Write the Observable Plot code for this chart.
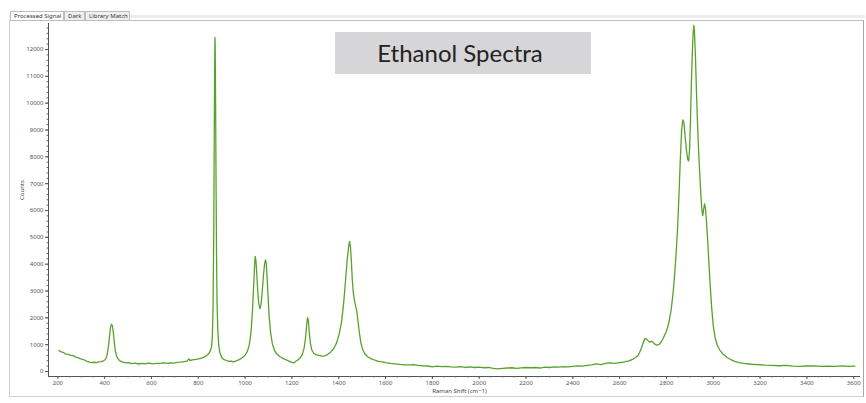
<!DOCTYPE html>
<html>
<head>
<meta charset="utf-8">
<script src="https://cdn.jsdelivr.net/npm/d3@7"></script>
<script src="https://cdn.jsdelivr.net/npm/@observablehq/plot@0.6"></script>
<style>
  html, body { margin: 0; padding: 0; background: #ffffff; }
  #wrap { position: relative; width: 866px; height: 403px; overflow: hidden; background: #fff; font-family: "Noto Sans", sans-serif; }
  #panel { position: absolute; left: 9px; top: 20px; width: 855px; height: 377px; border: 1px solid #cfcfcf; border-right-color: #a8a8a8; border-top-color: #bdbdbd; box-sizing: border-box; }
  #topband { position: absolute; left: 9px; top: 15px; width: 856px; height: 3px; background: #ececec; }
  .tab { position: absolute; top: 11px; height: 9px; font-size: 6px; line-height: 9px; color: #333; border: 1px solid #bdbdbd; border-bottom: none; padding: 0 3px; box-sizing: border-box; background: #f0f0f0; white-space: nowrap; }
  #chart { position: absolute; left: 0; top: 0; }
  #title { position: absolute; left: 335px; top: 32px; width: 256px; height: 42px; background: #d6d6d8; color: #222; font-family: Lato, "Noto Sans", sans-serif; font-size: 24px; line-height: 42px; text-align: center; text-indent: -6px; }
</style>
</head>
<body>
<div id="wrap">
  <div id="topband"></div>
  <div id="panel"></div>
  <div class="tab" style="left:10px;width:54px;background:#fff;">Processed Signal</div>
  <div class="tab" style="left:64px;width:21px;">Dark</div>
  <div class="tab" style="left:85px;width:45px;">Library Match</div>
  <div id="chart"></div>
  <div id="title">Ethanol Spectra</div>
</div>
<script>
// Raman shift (cm-1) and counts
const shift = [205,215,225,235,245,255,265,275,285,295,305,315,325,335,345,355,365,375,385,395,
402,407,412,417,421,425,429,433,437,441,445,450,456,463,472,482,492,502,515,530,545,560,575,590,605,620,635,650,665,680,695,710,725,740,752,760,765,775,790,805,820,833,843,851,856,860,863,866,868,870,871,872,874,876,878,880,883,887,892,900,910,920,930,940,950,960,970,980,990,1000,1010,1018,1025,1031,1036,1040,1043,1046,1050,1054,1058,1063,1068,1073,1078,1083,1087,1090,1094,1098,1103,1109,1116,1125,1135,1148,1162,1176,1190,1200,1208,1215,1225,1235,1245,1252,1258,1263,1267,1270,1274,1279,1285,1293,1302,1315,1328,1340,1352,1365,1378,1390,1402,1412,1421,1429,1436,1442,1446,1450,1454,1458,1462,1467,1472,1477,1482,1488,1495,1503,1513,1525,1540,1555,1570,1585,1600,1620,1640,1660,1680,1700,1720,1740,1760,1780,1800,1820,1840,1860,1880,1900,1920,1940,1960,1980,2000,2020,2040,2060,2080,2100,2120,2140,2160,2180,2200,2220,2240,2260,2280,2300,2320,2340,2360,2380,2400,2420,2440,2460,2480,2500,2520,2540,2560,2580,2600,2620,2640,2655,2668,2680,2690,2700,2708,2715,2722,2730,2738,2745,2752,2760,2768,2776,2784,2792,2800,2810,2820,2828,2835,2842,2848,2854,2860,2865,2870,2875,2880,2886,2891,2895,2899,2903,2907,2911,2914,2917,2920,2924,2928,2932,2937,2942,2947,2951,2955,2959,2963,2967,2971,2976,2981,2987,2993,3000,3008,3017,3028,3042,3058,3075,3092,3110,3130,3160,3190,3220,3250,3280,3310,3340,3370,3400,3430,3460,3490,3520,3550,3580,3605];
const counts = [780,730,700,650,640,600,590,545,520,480,450,420,380,350,330,345,330,360,370,400,
440,520,700,1000,1350,1650,1760,1700,1450,1100,800,600,480,410,370,340,320,330,290,310,280,300,290,310,285,305,300,320,300,325,310,340,350,370,390,470,410,430,450,480,520,580,650,760,900,1300,2400,5200,8600,11500,12450,12200,9800,6800,4200,2600,1600,1000,700,520,440,410,380,390,360,390,420,470,530,610,760,1000,1450,2200,3100,3900,4290,4150,3600,3000,2550,2340,2500,2950,3550,4000,4160,4050,3500,2800,2000,1450,1050,800,660,560,490,430,380,340,320,370,430,500,650,880,1250,1750,2010,1900,1450,1050,800,680,630,600,570,580,630,720,850,1050,1400,1850,2550,3400,4150,4650,4850,4650,4100,3400,2950,2650,2450,2250,1900,1450,1050,800,640,540,470,420,380,360,330,300,285,265,250,245,260,230,215,205,175,200,180,195,170,160,180,150,170,150,160,140,150,120,100,115,130,140,120,135,150,140,150,130,160,150,170,160,180,170,195,210,200,230,250,285,260,300,320,300,330,360,400,450,520,620,800,1050,1230,1210,1150,1090,1130,1060,1010,980,1000,1080,1200,1350,1500,1800,2300,2900,3600,4500,5400,6700,8100,9000,9380,9250,8750,8200,7900,7850,8300,9500,10900,12000,12600,12900,12600,11700,10500,9400,8300,7400,6600,6050,5810,6050,6250,6050,5600,4900,4100,3200,2400,1700,1250,980,800,640,530,440,380,330,300,270,260,240,230,215,225,200,190,205,210,190,200,195,210,190,200];

const xTicks = [200,400,600,800,1000,1200,1400,1600,1800,2000,2200,2400,2600,2800,3000,3200,3400,3600];
const xMinor = d3.range(200, 3601, 50);
const yTicks = [0,1000,2000,3000,4000,5000,6000,7000,8000,9000,10000,11000,12000];
const yMinor = d3.range(0, 12801, 200);
const xLabel = "Raman Shift (cm\u22121)";
const yLabel = "Counts";

const data = shift.map((s, i) => ({shift: s, counts: counts[i]}));

const chart = Plot.plot({
  width: 866,
  height: 403,
  marginLeft: 48,
  marginRight: 6,
  marginTop: 23,
  marginBottom: 27,
  style: {background: "transparent", color: "#444", fontFamily: "'Noto Sans', sans-serif"},
  x: {domain: [160, 3629]},
  y: {domain: [-186, 12969]},
  marks: [
    Plot.ruleX([160], {stroke: "#555", strokeWidth: 1}),
    Plot.ruleY([-186], {stroke: "#555", strokeWidth: 1}),
    Plot.axisX(xMinor, {tickSize: 1.5, tickFormat: () => "", label: null, stroke: "#666"}),
    Plot.axisX(xTicks, {tickSize: 3, tickPadding: 1, fontSize: 6, label: null, tickFormat: d => String(d), fill: "#555", stroke: "#555"}),
    Plot.axisY(yMinor, {tickSize: 1.5, tickFormat: () => "", label: null, stroke: "#666"}),
    Plot.axisY(yTicks, {tickSize: 3, tickPadding: 2, fontSize: 6, label: null, tickFormat: d => String(d), fill: "#555", stroke: "#555"}),
    Plot.text([xLabel], {frameAnchor: "bottom", dx: 5, dy: 16, fontSize: 6, fill: "#444"}),
    Plot.text([yLabel], {frameAnchor: "left", dx: -26, rotate: -90, fontSize: 6, fill: "#444"}),
    Plot.line(data, {x: "shift", y: "counts", stroke: "#58a22c", strokeWidth: 1.3, curve: "linear"})
  ]
});
document.getElementById("chart").appendChild(chart);
</script>
</body>
</html>
